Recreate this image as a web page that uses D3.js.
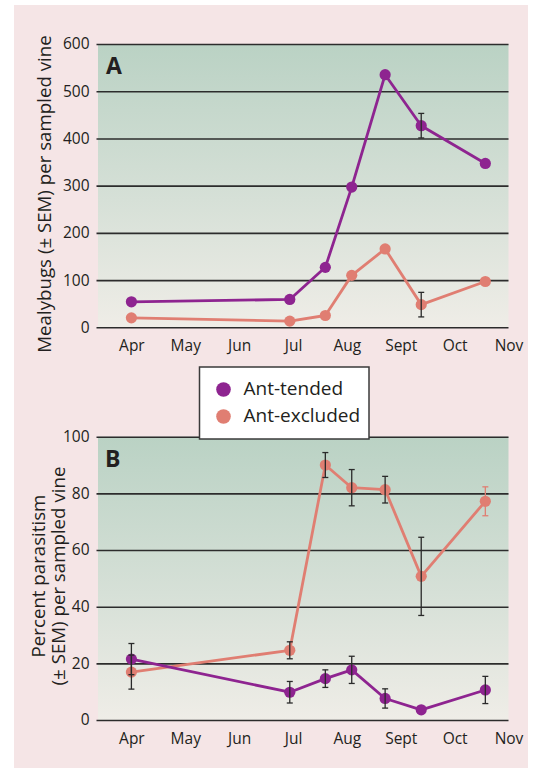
<!DOCTYPE html>
<html>
<head>
<meta charset="utf-8">
<script src="https://cdn.jsdelivr.net/npm/d3@7"></script>
<style>
  html, body { margin: 0; padding: 0; background: #ffffff; }
  svg { display: block; font-family: "Open Sans", "Noto Sans", sans-serif; }
</style>
</head>
<body>
<svg id="chart" width="535" height="768"></svg>
<script>
// ---- data ----
const months = ["Apr", "May", "Jun", "Jul", "Aug", "Sept", "Oct", "Nov"];
// sampling dates, in months after the start of April
const sampleDates = [0, 2.94, 3.6, 4.09, 4.71, 5.38, 6.57];

const mealyTended      = [54, 59, 127, 297, 535, 427, 347];
const mealyTendedSem   = [null, null, null, null, null, 26, null];
const mealyExcluded    = [20, 13, 25, 110, 166, 48, 97];
const mealyExcludedSem = [null, null, null, null, null, 26, null];

const paraTended       = [21.5, 9.8, 14.6, 17.7, 7.6, 3.6, 10.6];
const paraTendedSem    = [5.5, 3.8, 3.1, 4.8, 3.4, null, 4.8];
const paraExcluded     = [16.9, 24.6, 90, 82, 81.3, 50.7, 77.2];
const paraExcludedSem  = [6, 3, 4.4, 6.4, 4.7, 13.8, 5.1];

const yTicksA = [0, 100, 200, 300, 400, 500, 600];
const yTicksB = [0, 20, 40, 60, 80, 100];
const legendLabels = ["Ant-tended", "Ant-excluded"];

// ---- style ----
const PURPLE = "#8e2490";
const SALMON = "#e07e72";
const GRID = "#2c2c2c";
const ERR = "#2a2a2a";

const svg = d3.select("#chart");

// page panel
svg.append("rect").attr("x", 14).attr("y", 5).attr("width", 514).attr("height", 763)
  .attr("fill", "#f5e5e6");

const defs = svg.append("defs");
const grad = defs.append("linearGradient").attr("id", "plotBg")
  .attr("x1", 0).attr("y1", 0).attr("x2", 0).attr("y2", 1);
grad.append("stop").attr("offset", "0%").attr("stop-color", "#bad2c4");
grad.append("stop").attr("offset", "55%").attr("stop-color", "#d6e0d7");
grad.append("stop").attr("offset", "100%").attr("stop-color", "#efede7");

const x = d3.scaleLinear().domain([-0.62, 7]).range([98, 508.5]);

function panel(opts) {
  const y = d3.scaleLinear().domain(opts.domain).range([opts.bottom, opts.top]);
  const g = svg.append("g");

  g.append("rect")
    .attr("x", x.range()[0]).attr("y", opts.top)
    .attr("width", x.range()[1] - x.range()[0]).attr("height", opts.bottom - opts.top)
    .attr("fill", "url(#plotBg)");

  // horizontal grid with value labels
  const yAxis = g.append("g")
    .attr("transform", `translate(${x.range()[0] - 1.5},0)`)
    .call(d3.axisLeft(y).tickValues(opts.ticks)
      .tickSize(-(x.range()[1] - x.range()[0] + 1.5)).tickPadding(7));
  yAxis.select(".domain").remove();
  yAxis.selectAll(".tick line").attr("stroke", GRID).attr("stroke-width", 1.6);
  yAxis.selectAll(".tick text").attr("fill", "#231f20")
    .attr("font-size", "15.5px").attr("font-family", "Open Sans");

  // month labels
  const xAxis = g.append("g")
    .attr("transform", `translate(0,${opts.bottom})`)
    .call(d3.axisBottom(x).tickValues(d3.range(months.length))
      .tickFormat(i => months[i]).tickSize(0).tickPadding(13));
  xAxis.select(".domain").remove();
  xAxis.selectAll(".tick text").attr("fill", "#231f20")
    .attr("font-size", "15.5px").attr("font-family", "Open Sans");

  // panel letter
  g.append("text").attr("x", opts.letterX).attr("y", opts.letterY)
    .attr("font-weight", 700).attr("font-size", "23px").attr("fill", "#231f20")
    .text(opts.letter);

  // axis title
  const title = g.append("text")
    .attr("transform", `translate(${opts.titleX},${opts.titleY}) rotate(-90)`)
    .attr("text-anchor", "middle").attr("font-size", "18.7px").attr("fill", "#231f20");
  opts.title.forEach((line, i) => {
    title.append("tspan").attr("x", 0).attr("y", i * opts.titleGap).text(line);
  });

  const line = d3.line().x(d => x(d.t)).y(d => y(d.v));

  const drawSeries = (vals, color) => {
    const pts = vals.map((v, i) => ({ t: sampleDates[i], v }));
    g.append("path").datum(pts).attr("d", line)
      .attr("fill", "none").attr("stroke", color).attr("stroke-width", 2.8)
      .attr("stroke-linejoin", "round");
    g.append("g").selectAll("circle").data(pts).join("circle")
      .attr("cx", d => x(d.t)).attr("cy", d => y(d.v)).attr("r", 5.6)
      .attr("fill", color);
  };

  const drawErrors = (vals, sems, colorAt) => {
    const bars = vals.map((v, i) => ({ t: sampleDates[i], v, s: sems[i], i }))
      .filter(d => d.s != null);
    const eg = g.append("g");
    bars.forEach(d => {
      const c = colorAt(d.i);
      const cx = x(d.t), y0 = y(d.v - d.s), y1 = y(d.v + d.s);
      eg.append("line").attr("x1", cx).attr("x2", cx).attr("y1", y0).attr("y2", y1)
        .attr("stroke", c).attr("stroke-width", 1.3);
      [y0, y1].forEach(yy => eg.append("line")
        .attr("x1", cx - 3).attr("x2", cx + 3).attr("y1", yy).attr("y2", yy)
        .attr("stroke", c).attr("stroke-width", 1.3));
    });
  };

  drawSeries(opts.excluded, SALMON);
  drawSeries(opts.tended, PURPLE);
  drawErrors(opts.excluded, opts.excludedSem, opts.excludedErrColor);
  drawErrors(opts.tended, opts.tendedSem, () => ERR);
}

panel({
  domain: [0, 600], top: 44, bottom: 327.3, ticks: yTicksA,
  tended: mealyTended, tendedSem: mealyTendedSem,
  excluded: mealyExcluded, excludedSem: mealyExcludedSem,
  excludedErrColor: () => ERR,
  letter: "A", letterX: 106, letterY: 74,
  title: ["Mealybugs (\u00b1 SEM) per sampled vine"], titleX: 51, titleY: 194, titleGap: 0
});

panel({
  domain: [0, 100], top: 436.7, bottom: 720, ticks: yTicksB,
  tended: paraTended, tendedSem: paraTendedSem,
  excluded: paraExcluded, excludedSem: paraExcludedSem,
  // the late-October bar is printed in the series colour
  excludedErrColor: i => (i === sampleDates.length - 1 ? SALMON : ERR),
  letter: "B", letterX: 105, letterY: 467,
  title: ["Percent parasitism", "(\u00b1 SEM) per sampled vine"], titleX: 44.5, titleY: 576, titleGap: 20.5
});

// legend
const lg = svg.append("g");
lg.append("rect").attr("x", 199.5).attr("y", 367).attr("width", 169.5).attr("height", 72)
  .attr("fill", "#ffffff").attr("stroke", "#3a3a3a").attr("stroke-width", 1.5);
[PURPLE, SALMON].forEach((c, i) => {
  lg.append("circle").attr("cx", 223.5).attr("cy", 389.5 + i * 27).attr("r", 7.3).attr("fill", c);
  lg.append("text").attr("x", 243.5).attr("y", 394.5 + i * 27)
    .attr("font-size", "19px").attr("fill", "#231f20").text(legendLabels[i]);
});
</script>
</body>
</html>
